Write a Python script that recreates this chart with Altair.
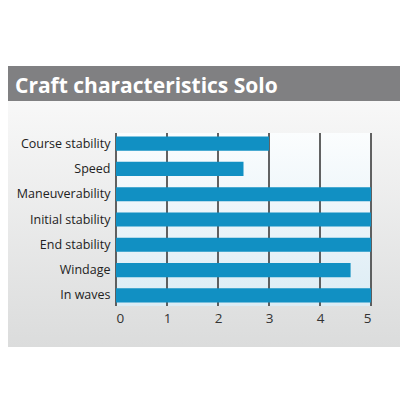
import altair as alt
import pandas as pd

TITLE = "Craft characteristics Solo"
categories = ["Course stability", "Speed", "Maneuverability", "Initial stability",
              "End stability", "Windage", "In waves"]
values = [3.0, 2.5, 5.0, 5.0, 5.0, 4.6, 5.0]
grid_ticks = [0, 1, 2, 3, 4, 5]

W, H = 255, 173

bars_df = pd.DataFrame({"cat": categories, "val": values})
grid_df = pd.DataFrame({"t": grid_ticks})
one = pd.DataFrame({"a": [0]})

xscale = alt.Scale(domain=[0, 5], nice=False, zero=True)
xaxis = alt.Axis(values=grid_ticks, grid=False, domain=False, ticks=False,
                 labelFontSize=13.5, labelColor="#333333", labelFont="Open Sans",
                 labelPadding=5, title=None, format="d", zindex=2)
yscale = alt.Scale(paddingInner=0.44, paddingOuter=0.14)
yaxis = alt.Axis(grid=False, domain=False, ticks=False, labelFontSize=12.5,
                 labelColor="#222222", labelFont="Open Sans", labelPadding=6,
                 title=None, labelLimit=200, zindex=2)

def grad(c0, c1):
    return alt.LinearGradient(gradient="linear",
                              stops=[alt.GradientStop(color=c0, offset=0),
                                     alt.GradientStop(color=c1, offset=1)],
                              x1=0, x2=0, y1=0, y2=1)

panel = alt.Chart(one).mark_rect(fill=grad("#fcfcfc", "#dbdcdc")).encode(
    x=alt.value(-112), x2=alt.value(286), y=alt.value(-67), y2=alt.value(214))
band = alt.Chart(one).mark_rect(color="#808082").encode(
    x=alt.value(-112), x2=alt.value(286), y=alt.value(-67), y2=alt.value(-32))
title = alt.Chart(one).mark_text(align="left", baseline="alphabetic", fontSize=21,
                                 fontWeight="bold", font="Open Sans", color="white").encode(
    x=alt.value(-101), y=alt.value(-40), text=alt.value(TITLE))
plotbg = alt.Chart(one).mark_rect(fill=grad("#fbfdfe", "#dcecf4")).encode(
    x=alt.value(0), x2=alt.value(W), y=alt.value(0), y2=alt.value(H))
rules = alt.Chart(grid_df).mark_rule(color="#3c3c3c", strokeWidth=1.6).encode(
    x=alt.X("t:Q", scale=xscale, axis=xaxis), y=alt.value(0), y2=alt.value(H))
bars = alt.Chart(bars_df).mark_bar(color="#1190c3").encode(
    x=alt.X("val:Q", scale=xscale, axis=xaxis),
    y=alt.Y("cat:N", sort=categories, scale=yscale, axis=yaxis))

chart = alt.layer(panel, band, title, plotbg, rules, bars).properties(
    width=W, height=H,
    autosize=alt.AutoSizeParams(type="none"),
    padding={"left": 108, "top": 125, "right": 29, "bottom": 94},
    background="white",
).configure_view(stroke=None)

chart.save("out.html", embed_options={"renderer": "svg", "actions": False})
